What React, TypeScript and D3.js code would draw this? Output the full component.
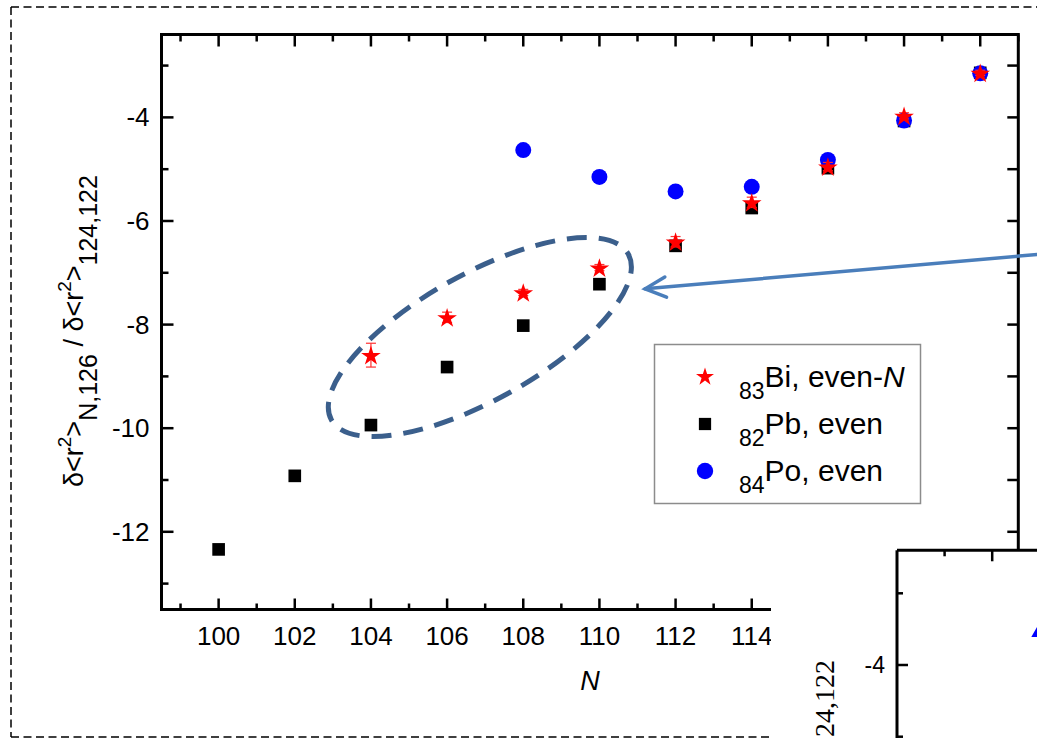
import React from "react";
import * as d3 from "d3";

// Even-N Pb isotopes
const pbN = [100, 102, 104, 106, 108, 110, 112, 114, 116, 118, 120];
const pbValues = [-12.34, -10.92, -9.94, -8.82, -8.02, -7.22, -6.48, -5.75, -4.98, -4.07, -3.14];

// Even-N Bi isotopes with uncertainties
const biN = [104, 106, 108, 110, 112, 114, 116, 118, 120];
const biValues = [-8.59, -7.86, -7.38, -6.9, -6.4, -5.64, -4.95, -3.97, -3.14];
const biErrors = [0.23, 0.1, 0.06, 0.06, 0.1, 0.1, 0.08, 0.06, 0.05];

// Even-N Po isotopes
const poN = [108, 110, 112, 114, 116, 118, 120];
const poValues = [-4.63, -5.15, -5.43, -5.34, -4.82, -4.06, -3.15];

// Axis ticks
const xTickLabels = [100, 102, 104, 106, 108, 110, 112, 114];
const yTickLabels = [-12, -10, -8, -6, -4];

// Second panel (only its corner is in view)
const insetN = [101];
const insetValues = [-3.54];
const insetYTickLabels = [-4];

const FONT = "'Liberation Sans', Arial, Helvetica, sans-serif";
const SERIF = "'Liberation Serif', 'Times New Roman', serif";

const W = 1037;
const H = 738;

const x = d3.scaleLinear().domain([98.5, 121]).range([161.5, 1018.3]);
const y = d3.scaleLinear().domain([-13.5, -2.4]).range([609.5, 34.5]);

const ix = d3.scaleLinear().domain([98, 104]).range([897, 897 + 6 * 47.6]);
const iy = d3.scaleLinear().domain([-6, -2.4]).range([665 + 2 * 71.7, 665 - 1.6 * 71.7]);

const star = d3.symbol().type(d3.symbolStar).size(120)()!;
const square = d3.symbol().type(d3.symbolSquare).size(160)()!;
const circle = d3.symbol().type(d3.symbolCircle).size(200)()!;
const triangle = d3.symbol().type(d3.symbolTriangle).size(125)()!;

const legendStar = d3.symbol().type(d3.symbolStar).size(100)()!;
const legendSquare = d3.symbol().type(d3.symbolSquare).size(150)()!;
const legendCircle = d3.symbol().type(d3.symbolCircle).size(210)()!;

const legendItems = [
  { sub: "83", name: "Bi, even-", italic: "N", path: legendStar, fill: "#ff0000" },
  { sub: "82", name: "Pb, even", italic: "", path: legendSquare, fill: "#000000" },
  { sub: "84", name: "Po, even", italic: "", path: legendCircle, fill: "#0000ff" },
];

// Highlighted region (ellipse around the N = 104-110 points) and pointer arrow
const highlightCenter = { n: 106.86, v: -8.24 };
const arrowTip = { n: 111.2, v: -7.31 };
const arrowTail = { n: 121.6, v: -6.64 };

export default function App() {
  const xMin = x.domain()[0];
  const xMax = x.domain()[1];
  const [yMin, yMax] = y.domain();
  const left = x(xMin);
  const right = x(xMax);
  const top = y(yMax);
  const bottom = y(yMin);

  const xTicks = d3.range(Math.ceil(xMin), Math.floor(xMax) + 1);
  const yTicks = d3.range(Math.ceil(yMin), Math.floor(yMax) + 1);

  const ex = x(highlightCenter.n);
  const ey = y(highlightCenter.v);

  const tipX = x(arrowTip.n);
  const tipY = y(arrowTip.v);
  const tailX = x(arrowTail.n);
  const tailY = y(arrowTail.v);
  const ang = Math.atan2(tailY - tipY, tailX - tipX);
  const wing = 23;
  const spread = (26 * Math.PI) / 180;

  const insetLeft = ix(98);
  const insetTop = iy(-2.4);
  const insetXTicks = d3.range(99, 104);
  const insetYTicks = d3.range(-6, -2);

  return (
    <svg
      width={W}
      height={H}
      viewBox={`0 0 ${W} ${H}`}
      style={{ position: "absolute", left: 0, top: 0, display: "block", background: "#fff" }}
    >
      <rect x={0} y={0} width={W} height={H} fill="#fff" />

      {/* dashed figure frame */}
      <g stroke="#000" strokeWidth={1.5} strokeDasharray="8,4.5" fill="none">
        <line x1={11} y1={7} x2={W} y2={7} />
        <line x1={11} y1={7} x2={11} y2={737} />
        <line x1={11} y1={737} x2={W} y2={737} />
      </g>

      {/* axes frame */}
      <rect x={left} y={top} width={right - left} height={bottom - top} fill="none" stroke="#000" strokeWidth={3} />

      {/* ticks */}
      <g stroke="#000" strokeWidth={2.5}>
        {xTicks.map((t) => {
          const major = t % 2 === 0;
          return (
            <g key={"xt" + t}>
              <line x1={x(t)} x2={x(t)} y1={bottom} y2={bottom - (major ? 11 : 6)} />
              <line x1={x(t)} x2={x(t)} y1={top} y2={top + (major ? 12 : 7)} />
            </g>
          );
        })}
        {yTicks.map((t) => {
          const major = t % 2 === 0;
          return (
            <g key={"yt" + t}>
              <line x1={left} x2={left + (major ? 12 : 7)} y1={y(t)} y2={y(t)} />
              <line x1={right} x2={right - 11} y1={y(t)} y2={y(t)} />
            </g>
          );
        })}
      </g>

      {/* tick labels */}
      <g fontFamily={FONT} fontSize={26} fill="#000">
        {xTickLabels.map((t) => (
          <text key={"xl" + t} x={x(t)} y={bottom + 35} textAnchor="middle">
            {t}
          </text>
        ))}
        {yTickLabels.map((t) => (
          <text key={"yl" + t} x={left - 12} y={y(t) + 9} textAnchor="end">
            {t}
          </text>
        ))}
      </g>

      {/* axis titles */}
      <text x={590} y={690} fontFamily={FONT} fontSize={27} fontStyle="italic" textAnchor="middle">
        N
      </text>
      <text
        transform="translate(83, 487) rotate(-90)"
        fontFamily={FONT}
        fontSize={27}
        textAnchor="start"
      >
        {"δ<r"}
        <tspan dy={-12} fontSize={19}>2</tspan>
        <tspan dy={12}>{">"}</tspan>
        <tspan dy={14} fontSize={25}>N,126</tspan>
        <tspan dy={-14}>{" / δ<r"}</tspan>
        <tspan dy={-12} fontSize={19}>2</tspan>
        <tspan dy={12}>{">"}</tspan>
        <tspan dy={14} fontSize={25}>124,122</tspan>
      </text>

      {/* Pb squares */}
      <g fill="#000">
        {pbN.map((n, i) => (
          <path key={"pb" + n} d={square} transform={`translate(${x(n)},${y(pbValues[i])})`} />
        ))}
      </g>

      {/* Po circles */}
      <g fill="#0000ff">
        {poN.map((n, i) => (
          <path key={"po" + n} d={circle} transform={`translate(${x(n)},${y(poValues[i])})`} />
        ))}
      </g>

      {/* Bi error bars and stars */}
      <g stroke="#ff3030" strokeWidth={1.2}>
        {biN.map((n, i) => {
          const cx = x(n);
          const y1 = y(biValues[i] - biErrors[i]);
          const y2 = y(biValues[i] + biErrors[i]);
          return (
            <g key={"be" + n}>
              <line x1={cx} x2={cx} y1={y1} y2={y2} />
              <line x1={cx - 5} x2={cx + 5} y1={y1} y2={y1} />
              <line x1={cx - 5} x2={cx + 5} y1={y2} y2={y2} />
            </g>
          );
        })}
      </g>
      <g fill="#ff0000">
        {biN.map((n, i) => (
          <path key={"bi" + n} d={star} transform={`translate(${x(n)},${y(biValues[i]) + 1})`} />
        ))}
      </g>

      {/* legend */}
      <rect x={654.5} y={344.5} width={266} height={159} fill="#fff" stroke="#8c8c8c" strokeWidth={1.5} />
      {legendItems.map((item, i) => {
        const cy = 377 + i * 47;
        return (
          <g key={"lg" + i}>
            <path d={item.path} transform={`translate(705,${cy})`} fill={item.fill} />
            <text x={739} y={cy + 10} fontFamily={FONT} fontSize={30}>
              <tspan dy={12} fontSize={23}>{item.sub}</tspan>
              <tspan dy={-12}>{item.name}</tspan>
              {item.italic ? <tspan fontStyle="italic">{item.italic}</tspan> : null}
            </text>
          </g>
        );
      })}

      {/* dashed highlight ellipse */}
      <ellipse
        cx={ex}
        cy={ey}
        rx={170}
        ry={63}
        transform={`rotate(-29.2, ${ex}, ${ey})`}
        fill="none"
        stroke="#3b5f8c"
        strokeWidth={5}
        strokeDasharray="20,12"
      />

      {/* arrow */}
      <g stroke="#4a7ebb" strokeWidth={3.5} fill="none" strokeLinecap="round">
        <line x1={tailX} y1={tailY} x2={tipX} y2={tipY} />
        <polyline
          points={`${tipX + wing * Math.cos(ang - spread)},${tipY + wing * Math.sin(ang - spread)} ${tipX},${tipY} ${tipX + wing * Math.cos(ang + spread)},${tipY + wing * Math.sin(ang + spread)}`}
        />
      </g>

      {/* second panel overlapping the lower right corner */}
      <rect x={771} y={549} width={W - 771} height={H - 549} fill="#fff" />
      <g stroke="#000">
        <line x1={insetLeft} x2={W} y1={insetTop} y2={insetTop} strokeWidth={3} />
        <line x1={insetLeft} x2={insetLeft} y1={insetTop} y2={H} strokeWidth={3} />
        {insetXTicks.map((t) => (
          <line
            key={"ixt" + t}
            x1={ix(t)}
            x2={ix(t)}
            y1={insetTop}
            y2={insetTop + (t % 2 === 0 ? 11 : 6)}
            strokeWidth={2.5}
          />
        ))}
        {insetYTicks.map((t) => (
          <line
            key={"iyt" + t}
            x1={insetLeft}
            x2={insetLeft + (t % 2 === 0 ? 11 : 6)}
            y1={iy(t)}
            y2={iy(t)}
            strokeWidth={2.5}
          />
        ))}
      </g>
      {insetYTickLabels.map((t) => (
        <text key={"iyl" + t} x={insetLeft - 12} y={iy(t) + 8} fontFamily={FONT} fontSize={23} textAnchor="end">
          {t}
        </text>
      ))}
      <text transform={`translate(834, 660) rotate(-90)`} fontFamily={SERIF} fontSize={28} textAnchor="end">
        124,122
      </text>
      <g fill="#0000ff">
        {insetN.map((n, i) => (
          <path key={"in" + n} d={triangle} transform={`translate(${ix(n)},${iy(insetValues[i])})`} />
        ))}
      </g>
    </svg>
  );
}
